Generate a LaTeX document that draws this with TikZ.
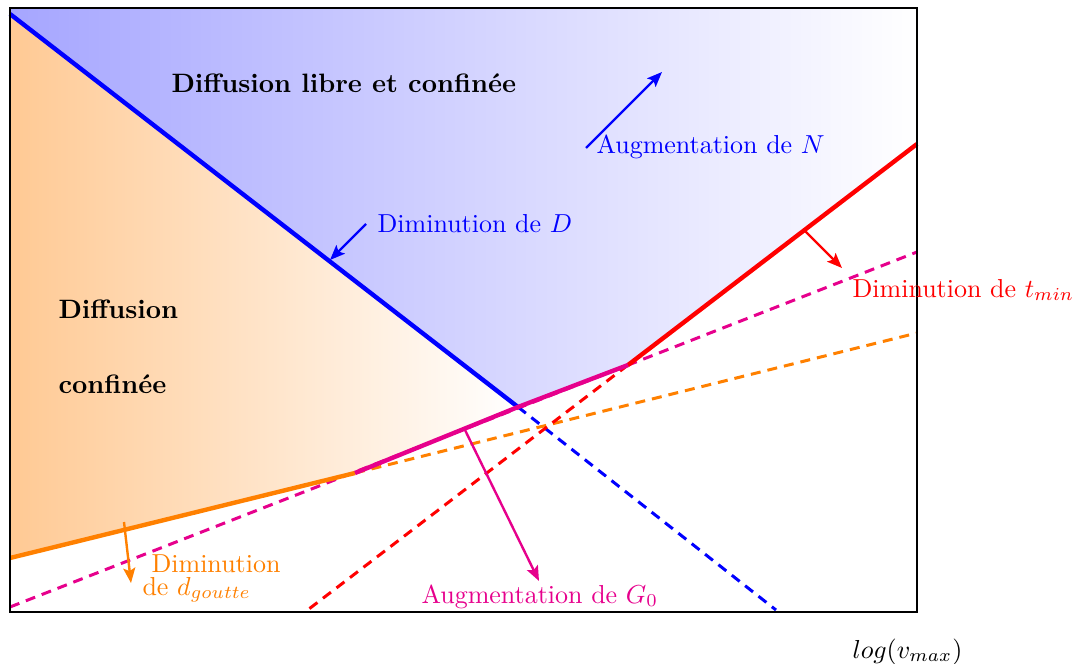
\documentclass[tikz,border=0pt]{standalone}
\usepackage{fontspec}
\usetikzlibrary{arrows.meta}
\definecolor{pinkG}{RGB}{230,0,140}
\definecolor{orangeD}{RGB}{255,128,0}
\tikzset{
  bound/.style={line width=2.2pt},
  guide/.style={line width=1.5pt, dash pattern=on 5pt off 3.5pt},
  effect/.style={line width=1.2pt, -{Stealth[length=7.5pt,width=6pt,inset=1.5pt]}},
  lbl/.style={anchor=base west, inner sep=0pt, scale=1.3},
  bold/.style={anchor=base west, inner sep=0pt, scale=1.33, font=\bfseries},
}
\begin{document}
\begin{tikzpicture}[x=0.5pt,y=-0.5pt]
\useasboundingbox (0,0) rectangle (1077,664);
% key points
\coordinate (TL) at (10,8);
\coordinate (TR) at (917,8);
\coordinate (BR) at (917,612);
\coordinate (BL) at (10,612);
\coordinate (B0) at (10,14);
\coordinate (P1) at (518,407);
\coordinate (P2) at (628,365);
\coordinate (O1) at (355,473);
\coordinate (O0) at (10,558);
\coordinate (R1) at (917,144);
\coordinate (Bend) at (776,610);
\coordinate (Oend) at (917,333);
\coordinate (Mstart) at (10,607);
\coordinate (Mend) at (917,252);
\coordinate (Rend) at (305,612);
% fills
\shade[left color=blue!35, right color=white]
  (TL) -- (TR) -- (R1) -- (P2) -- (P1) -- (B0) -- cycle;
\shade[left color=orange!42, right color=white]
  (B0) -- (P1) -- (O1) -- (O0) -- cycle;
% dashed guides
\draw[guide, pinkG] (Mstart) -- (Mend);
\draw[guide, orangeD] (O1) -- (Oend);
\draw[guide, blue] (P1) -- (Bend);
\draw[guide, red] (P2) -- (Rend);
% boundaries
\draw[bound, blue] (B0) -- (P1);
\draw[bound, orangeD] (O0) -- (O1);
\draw[bound, red] (P2) -- (R1);
\draw[bound, pinkG] (O1) -- (P1) -- (P2);
% frame
\draw[line width=1pt] (TL) rectangle (BR);
% arrows
\coordinate (aD1) at (366,224); \coordinate (aD2) at (330,260);
\coordinate (aN1) at (586,148); \coordinate (aN2) at (662,72);
\coordinate (aT1) at (805,231); \coordinate (aT2) at (842,268);
\coordinate (aG1) at (465,430); \coordinate (aG2) at (539,581);
\coordinate (aO1) at (124,522); \coordinate (aO2) at (131,583);
\draw[effect, blue] (aD1) -- (aD2);
\draw[effect, blue] (aN1) -- (aN2);
\draw[effect, red] (aT1) -- (aT2);
\draw[effect, pinkG] (aG1) -- (aG2);
\draw[effect, orangeD] (aO1) -- (aO2);
% labels
\node[bold] (tDLC) at (171,92) {Diffusion libre et confinée};
\node[bold] (tDC1) at (58,318) {Diffusion};
\node[bold] (tDC2) at (58,393) {confinée};
\node[lbl, blue] (tD) at (377,232) {Diminution de $D$};
\node[lbl, blue] (tN) at (596,153) {Augmentation de $N$};
\node[lbl, red] (tT) at (852,297) {Diminution de $t_{min}$};
\node[lbl, pinkG] (tG) at (421,603) {Augmentation de $G_0$};
\node[lbl, orange] (tO1) at (151,572) {Diminution};
\node[lbl, orange] (tO2) at (142,595) {de $d_{goutte}$};
\node[lbl] (tX) at (852,658) {$log(v_{max})$};
\end{tikzpicture}
\end{document}
